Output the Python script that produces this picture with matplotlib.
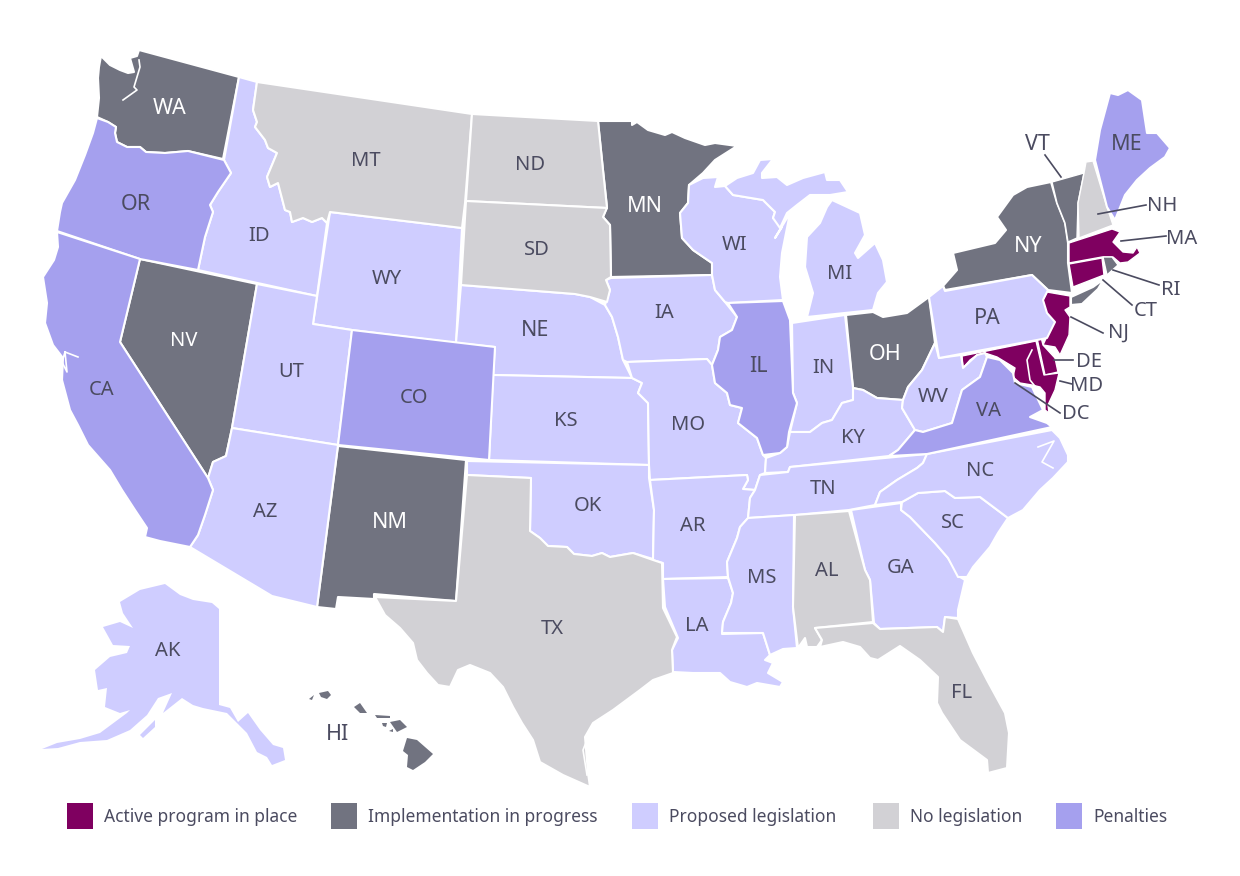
import matplotlib
matplotlib.use("Agg")
import matplotlib.pyplot as plt
from matplotlib.patches import Rectangle

plt.rcParams["font.family"] = ["Noto Sans", "DejaVu Sans"]

# outlines, in picture pixels
WA = [(139,50),(239,77),(223,159),(188,151),(165,153),(146,152),(140,147),(127,147),(117,142),(115,133),(116,127),(108,122),(97,117),(99,98),(98,78),(99,67),(101,56),(110,65),(120,70),(128,73),(134,72),(130,58),(137,56)]
OR = [(97,118),(108,122),(116,127),(115,133),(117,142),(127,147),(140,147),(146,152),(165,153),(188,151),(224,160),(231,173),(218,192),(210,205),(213,212),(205,237),(198,270),(140,259),(57,231),(60,212),(62,203),(75,180),(85,155),(93,133)]
CA = [(57,232),(140,259),(120,342),(208,478),(213,490),(205,515),(198,535),(190,547),(160,541),(145,537),(147,528),(135,510),(122,490),(110,470),(88,445),(78,425),(70,410),(62,380),(63,358),(53,345),(45,323),(47,303),(43,277),(54,260),(58,247)]
NV = [(140,259),(257,284),(232,428),(226,456),(213,462),(208,478),(120,342)]
ID = [(239,77),(257,82),(253,110),(257,122),(255,127),(265,140),(268,148),(277,153),(272,165),(267,177),(270,187),(278,183),(285,210),(290,212),(292,222),(303,218),(312,222),(322,218),(327,223),(317,296),(198,270),(205,237),(213,212),(210,205),(218,192),(231,173),(224,160)]
MT = [(257,82),(472,114),(465,203),(462,228),(330,212),(327,223),(322,218),(312,222),(303,218),(292,222),(290,212),(285,210),(278,183),(270,187),(267,177),(272,165),(277,153),(268,148),(265,140),(255,127),(257,122),(253,110)]
WY = [(330,212),(462,228),(456,343),(352,330),(313,324)]
UT = [(257,284),(317,296),(313,324),(352,330),(338,445),(232,428)]
CO = [(352,330),(495,347),(489,460),(338,445)]
AZ = [(232,428),(338,445),(317,607),(272,596),(190,547),(198,535),(205,515),(213,490),(208,478),(213,462),(226,456)]
NM = [(338,446),(466,460),(456,601),(374,594),(374,599),(338,597),(336,609),(317,607)]
ND = [(472,114),(598,121),(603,170),(607,208),(466,201)]
SD = [(466,201),(607,208),(603,217),(610,225),(611,277),(606,280),(610,290),(607,302),(590,297),(575,294),(461,285)]
NE = [(461,285),(575,294),(590,297),(605,305),(612,317),(618,337),(623,360),(632,378),(493,375),(495,347),(456,343)]
KS = [(493,375),(632,378),(642,383),(638,393),(648,403),(649,465),(489,460)]
OK = [(467,461),(649,465),(649,478),(654,510),(653,559),(633,553),(610,557),(602,553),(592,556),(574,554),(567,547),(548,546),(540,538),(530,531),(531,478),(467,475)]
TX = [(467,475),(531,478),(530,531),(540,538),(548,546),(567,547),(574,554),(592,556),(602,553),(610,557),(633,553),(653,560),(662,563),(663,608),(677,637),(672,650),(673,673),(653,680),(640,690),(613,710),(593,723),(585,737),(588,773),(590,787),(563,775),(540,762),(533,740),(522,723),(513,707),(503,687),(490,673),(470,665),(458,670),(450,687),(438,685),(427,673),(417,660),(413,643),(400,628),(385,615),(375,597),(456,601)]
MN = [(598,121),(632,121),(632,125),(637,122),(648,130),(665,135),(672,132),(685,138),(705,145),(715,143),(737,146),(715,160),(703,173),(689,185),(688,203),(680,213),(682,238),(693,250),(712,263),(712,275),(611,277),(610,225),(603,217),(607,207),(603,170)]
IA = [(611,278),(712,275),(715,290),(725,302),(737,317),(732,330),(720,337),(718,350),(712,365),(707,359),(627,362),(623,360),(618,337),(612,317),(605,305),(610,290),(606,280)]
MO = [(627,362),(707,359),(712,365),(715,383),(727,393),(730,405),(742,408),(738,423),(757,438),(763,455),(766,458),(765,473),(760,475),(755,490),(743,489),(748,480),(747,475),(650,480),(649,465),(648,403),(638,393),(642,383),(632,378)]
AR = [(650,480),(747,475),(748,480),(743,489),(755,490),(750,498),(748,518),(740,527),(737,538),(727,562),(728,577),(663,579),(663,563),(653,560),(654,510)]
LA = [(663,579),(728,578),(733,593),(731,603),(723,622),(722,634),(763,633),(770,655),(765,660),(773,663),(768,673),(783,682),(780,687),(757,683),(747,687),(730,682),(720,673),(693,673),(673,672),(672,650),(678,638),(665,607)]
WI = [(689,185),(703,178),(718,177),(715,187),(725,186),(733,195),(763,200),(775,212),(773,218),(782,227),(775,238),(790,213),(782,253),(780,277),(783,300),(728,303),(725,302),(715,290),(712,275),(712,263),(693,250),(682,238),(680,213),(688,203)]
IL = [(728,303),(783,301),(790,320),(793,393),(797,403),(789,432),(787,447),(780,453),(763,455),(757,438),(738,423),(742,408),(730,405),(727,393),(715,383),(712,365),(718,350),(720,337),(732,330),(737,317)]
IN = [(792,323),(845,315),(853,388),(853,400),(842,403),(832,420),(822,423),(810,432),(790,432),(797,403),(793,393)]
OH = [(846,315),(873,312),(883,317),(907,313),(929,297),(935,343),(922,370),(908,387),(903,400),(877,398),(863,390),(853,388)]
KY = [(790,432),(810,432),(822,423),(832,420),(842,403),(853,400),(853,388),(863,390),(877,398),(903,400),(902,408),(915,430),(898,450),(889,456),(790,467),(788,472),(765,473),(766,458),(780,453),(787,447)]
TN = [(760,475),(788,472),(790,467),(927,454),(923,463),(917,468),(897,480),(880,492),(875,505),(849,510),(795,515),(748,518),(750,498),(755,490)]
MS = [(748,518),(794,515),(793,607),(797,648),(783,649),(770,655),(763,633),(722,633),(723,622),(731,603),(733,593),(728,577),(727,562),(737,538),(740,527)]
AL = [(795,515),(849,511),(865,570),(870,580),(873,622),(815,628),(822,640),(817,647),(807,647),(805,638),(798,648),(793,607)]
GA = [(851,510),(901,503),(901,510),(910,517),(935,543),(948,558),(960,577),(965,580),(958,610),(958,618),(945,617),(943,632),(937,627),(880,629),(874,623),(870,580),(865,570)]
FL = [(815,628),(873,623),(880,629),(937,627),(943,632),(945,617),(958,619),(973,653),(987,680),(1005,713),(1009,733),(1007,768),(988,773),(987,760),(960,740),(942,713),(937,703),(938,677),(920,660),(900,646),(878,660),(870,658),(860,647),(843,642),(820,647),(822,640)]
SC = [(902,502),(918,493),(945,491),(955,498),(980,497),(1008,518),(998,533),(990,547),(973,567),(967,577),(958,577),(948,558),(935,543),(910,517),(901,510)]
NC = [(927,454),(1052,430),(1060,438),(1068,455),(1068,462),(1053,478),(1040,490),(1023,510),(1008,518),(980,497),(955,498),(945,491),(918,493),(902,502),(875,505),(880,492),(897,480),(917,468),(923,463)]
VA = [(889,456),(898,450),(915,430),(923,432),(952,423),(962,390),(980,377),(987,357),(1000,360),(1013,373),(1015,383),(1032,387),(1043,410),(1030,417),(1047,423),(1052,427),(927,454)]
WV = [(935,343),(939,358),(961,355),(963,368),(977,355),(985,353),(987,357),(980,377),(962,390),(952,423),(923,432),(915,430),(902,408),(903,400),(908,387),(922,370)]
PA = [(929,297),(943,286),(945,291),(1032,275),(1048,290),(1043,300),(1047,313),(1055,322),(1047,338),(1037,340),(939,358)]
NY = [(945,290),(943,286),(957,270),(953,253),(995,243),(1006,230),(997,217),(1013,195),(1027,187),(1051,182),(1057,203),(1065,223),(1068,243),(1068,263),(1072,293),(1048,290),(1032,275)]
LONG_ISLAND = [(1071,297),(1093,287),(1104,279),(1098,289),(1082,304),(1071,305)]
VT = [(1052,182),(1084,173),(1078,203),(1077,238),(1068,242),(1065,223),(1057,203)]
NH = [(1086,162),(1093,161),(1107,207),(1113,225),(1079,238),(1078,203),(1084,173)]
ME = [(1095,160),(1100,130),(1110,93),(1118,95),(1128,90),(1142,100),(1147,133),(1157,133),(1170,148),(1165,157),(1150,168),(1137,180),(1125,195),(1115,220),(1107,207)]
MA = [(1069,243),(1112,229),(1120,232),(1113,242),(1123,252),(1133,253),(1137,247),(1140,253),(1128,262),(1120,263),(1113,257),(1102,257),(1069,263)]
CT = [(1069,264),(1102,258),(1104,275),(1073,287)]
RI = [(1103,257),(1112,257),(1118,265),(1107,275)]
NJ = [(1047,292),(1070,296),(1070,307),(1065,310),(1070,317),(1069,335),(1060,355),(1055,347),(1043,345),(1053,323),(1045,312),(1043,300)]
DE = [(1037,338),(1041,337),(1043,345),(1055,358),(1058,372),(1045,375)]
MD = [(962,356),(1036,341),(1044,375),(1059,373),(1055,390),(1048,405),(1049,413),(1045,410),(1045,393),(1040,387),(1032,385),(1020,383),(1013,377),(1015,368),(997,357),(985,353),(977,355),(970,360),(963,368)]
MI_UPPER = [(725,186),(737,178),(753,173),(760,160),(773,159),(762,173),(762,178),(777,177),(787,185),(803,178),(825,172),(827,180),(840,180),(848,192),(830,195),(810,195),(797,205),(787,213),(780,228),(773,218),(775,212),(763,200),(733,195)]
MI_LOWER = [(832,200),(860,213),(865,235),(855,253),(858,258),(875,243),(883,260),(887,282),(878,293),(873,310),(807,317),(813,293),(805,267),(807,237),(820,223),(827,207)]
AK_MAIN = [(165,584),(180,595),(193,600),(212,603),(219,609),(219,705),(230,708),(238,722),(248,713),(260,730),(273,745),(283,748),(285,760),(272,765),(267,757),(257,752),(247,733),(227,713),(203,708),(193,705),(182,698),(163,713),(172,693),(158,698),(147,715),(130,730),(107,740),(80,742),(58,748),(42,749),(57,743),(80,739),(100,733),(127,713),(130,710),(120,713),(105,707),(107,688),(98,690),(95,670),(110,657),(127,653),(130,646),(113,645),(103,627),(120,622),(133,628),(123,613),(120,602),(140,590)]
AK_KODIAK = [(140,735),(155,720),(155,727),(143,738)]
HI_BIG = [(407,738),(417,740),(433,754),(425,762),(413,770),(407,767),(408,755),(403,751)]
HI_MAUI = [(390,722),(400,720),(407,727),(397,732)]
HI_MOLOKAI = [(375,715),(390,716),(390,718),(377,718)]
HI_LANAI = [(382,723),(387,723),(386,727),(383,726)]
HI_KAHOOLAWE = [(389,731),(393,729),(393,732)]
HI_OAHU = [(360,703),(367,713),(360,713),(354,707)]
HI_KAUAI = [(319,693),(328,691),(331,695),(327,699),(321,697)]
HI_NIIHAU = [(309,699),(314,695),(312,700)]

# white water lines cut into the shapes
PUGET = [(139,60),(140,67),(137,77),(134,87),(137,90),(123,100)]
SF_BAY = [(65,352),(62,362),(67,372),(65,352),(78,357)]
CHESAPEAKE = [(1032,350),(1027,360),(1030,380),(1038,390)]
PADRE = [(587,740),(583,750),(587,775)]
PAMLICO = [(1038,447),(1054,441),(1042,462),(1053,468)]

shapes = {
    "WA": [WA], "OR": [OR], "CA": [CA], "NV": [NV], "ID": [ID], "MT": [MT], "WY": [WY], "UT": [UT],
    "CO": [CO], "AZ": [AZ], "NM": [NM], "ND": [ND], "SD": [SD], "NE": [NE], "KS": [KS], "OK": [OK],
    "TX": [TX], "MN": [MN], "IA": [IA], "MO": [MO], "AR": [AR], "LA": [LA], "WI": [WI], "IL": [IL],
    "IN": [IN], "OH": [OH], "KY": [KY], "TN": [TN], "MS": [MS], "AL": [AL], "GA": [GA], "FL": [FL],
    "SC": [SC], "NC": [NC], "VA": [VA], "WV": [WV], "PA": [PA], "NY": [NY, LONG_ISLAND], "VT": [VT],
    "NH": [NH], "ME": [ME], "MA": [MA], "CT": [CT], "RI": [RI], "NJ": [NJ], "DE": [DE], "MD": [MD],
    "MI": [MI_UPPER, MI_LOWER], "AK": [AK_MAIN, AK_KODIAK],
    "HI": [HI_BIG, HI_MAUI, HI_MOLOKAI, HI_LANAI, HI_KAHOOLAWE, HI_OAHU, HI_KAUAI, HI_NIIHAU],
}

active_states = ["MA", "CT", "NJ", "DE", "MD"]
implementing_states = ["WA", "NV", "NM", "MN", "OH", "NY", "VT", "RI", "HI"]
proposed_states = ["ID", "WY", "UT", "AZ", "NE", "KS", "OK", "IA", "MO", "AR", "LA", "WI", "MI", "IN",
                   "KY", "TN", "MS", "GA", "SC", "NC", "WV", "PA", "AK"]
no_law_states = ["MT", "ND", "SD", "TX", "AL", "FL", "NH"]
penalty_states = ["OR", "CA", "CO", "IL", "ME", "VA"]

legend_labels = ["Active program in place", "Implementation in progress", "Proposed legislation",
                 "No legislation", "Penalties"]
legend_colors = ["#7f0060", "#717380", "#cfcdff", "#d2d1d5", "#a5a0ee"]
groups = [active_states, implementing_states, proposed_states, no_law_states, penalty_states]

label_pos = {
    "WA": (170,109), "OR": (136,205), "CA": (102,390), "NV": (184,341), "ID": (259,236), "MT": (366,161),
    "WY": (387,279), "UT": (291,372), "AZ": (265,512), "CO": (414,398), "NM": (390,523), "ND": (530,165),
    "SD": (537,250), "NE": (535,331), "KS": (566,421), "OK": (588,506), "TX": (552,629), "MN": (645,206),
    "IA": (664,313), "MO": (688,425), "AR": (693,526), "LA": (697,626), "WI": (735,245), "IL": (758,367),
    "MI": (840,274), "IN": (823,368), "OH": (885,354), "KY": (853,438), "TN": (823,489), "MS": (762,578),
    "AL": (827,571), "GA": (901,568), "FL": (962,693), "SC": (953,523), "NC": (980,471), "VA": (989,411),
    "WV": (933,397), "PA": (987,318), "NY": (1028,247), "VT": (1037,144), "ME": (1127,145), "NH": (1162,206),
    "MA": (1182,239), "RI": (1171,290), "CT": (1146,311), "NJ": (1118,333), "DE": (1089,362),
    "MD": (1087,386), "DC": (1076,414), "AK": (168,651), "HI": (338,734),
}
white_labels = ["WA", "NV", "NM", "MN", "OH", "NY"]
big_labels = ["WA", "OR", "NE", "NY", "VT", "ME", "MN", "PA", "HI", "IL", "NM", "OH"]
thin_edge_states = ["MA", "CT", "RI", "NJ", "DE", "MD", "VT", "NH"]
no_edge_states = ["AK", "HI"]

leaders = [
    ((1045,155),(1061,177)), ((1098,214),(1146,205)), ((1121,241),(1166,236)), ((1113,270),(1159,285)),
    ((1103,280),(1132,305)), ((1071,317),(1103,333)), ((1054,360),(1073,360)), ((1060,381),(1072,384)),
    ((1015,383),(1060,413)),
]

TEXT_COLOR = "#4b4b60"

fig = plt.figure(figsize=(12.4, 8.76), dpi=100)
ax = fig.add_axes([0, 0, 1, 1])
ax.set_xlim(0, 1240)
ax.set_ylim(876, 0)
ax.axis("off")

for names, color in zip(groups, legend_colors):
    for name in names:
        if name in no_edge_states:
            edge_width = 0
        elif name in thin_edge_states:
            edge_width = 1.0
        else:
            edge_width = 1.5
        for part in shapes[name]:
            xs, ys = zip(*part)
            ax.fill(xs, ys, facecolor=color, edgecolor="white", linewidth=edge_width, joinstyle="round", zorder=2)

for water in [PUGET, SF_BAY, CHESAPEAKE, PADRE, PAMLICO]:
    xs, ys = zip(*water)
    ax.plot(xs, ys, color="white", lw=1.2, zorder=3)

for start, end in leaders:
    ax.plot([start[0], end[0]], [start[1], end[1]], color=TEXT_COLOR, lw=1.2, zorder=4)

for name, (x, y) in label_pos.items():
    ax.text(x, y, name, ha="center", va="center", zorder=5,
            color="white" if name in white_labels else TEXT_COLOR,
            fontsize=15.5 if name in big_labels else 14.5)

# legend along the bottom
swatch_x = [67, 331, 632, 873, 1056]
for x, label, color in zip(swatch_x, legend_labels, legend_colors):
    ax.add_patch(Rectangle((x, 803), 26, 26, facecolor=color, edgecolor="none", zorder=2))
    ax.text(x + 37, 817, label, ha="left", va="center", color=TEXT_COLOR, fontsize=12.5)

fig.savefig("out.png", dpi=100, facecolor="white")
plt.close(fig)
